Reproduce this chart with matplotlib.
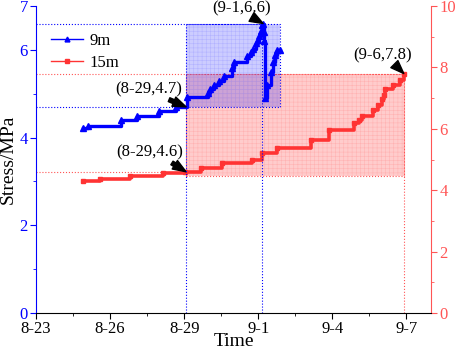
import matplotlib
matplotlib.use("Agg")
import matplotlib.pyplot as plt
from matplotlib.patches import Rectangle
from matplotlib.lines import Line2D

plt.rcParams['font.family'] = ['Liberation Serif', 'DejaVu Serif']
plt.rcParams['hatch.linewidth'] = 0.4

# days since 8-23
tick_days = [0, 3, 6, 9, 12, 15]
tick_labels = ['8-23', '8-26', '8-29', '9-1', '9-4', '9-7']

# 9 m (left axis)
t9 = [1.92, 2.1, 3.45, 4.1, 5.0, 5.65, 6.1, 6.95, 7.05, 7.2, 7.4, 7.6, 7.95,
      8.0, 8.55, 8.7, 8.8, 8.9, 9.0, 9.05, 9.1, 9.15, 9.2, 9.22, 9.24, 9.26,
      9.36, 9.5, 9.6, 9.7, 9.78, 9.88]
s9 = [4.21, 4.27, 4.41, 4.50, 4.60, 4.70, 4.93, 5.02, 5.11, 5.20, 5.30, 5.41,
      5.59, 5.73, 5.85, 5.94, 6.03, 6.15, 6.22, 6.32, 6.43, 6.57, 6.60, 6.40,
      6.20, 4.90, 5.20, 5.50, 5.73, 5.88, 6.00, 6.00]

# 15 m (right axis)
t15 = [1.9, 2.6, 3.8, 5.15, 6.05, 6.7, 7.55, 8.75, 9.15, 9.75, 11.15, 11.85,
       12.9, 13.1, 13.2, 13.65, 13.85, 14.0, 14.1, 14.15, 14.45, 14.75, 14.9]
s15 = [4.30, 4.38, 4.47, 4.56, 4.60, 4.71, 4.90, 5.00, 5.20, 5.38, 5.63, 5.96,
       6.18, 6.29, 6.42, 6.61, 6.78, 6.96, 7.10, 7.29, 7.43, 7.60, 7.80]

# marked points
p9a = (6.08, 4.7)
p9b = (9.17, 6.6)
p15a = (6.08, 4.6)
p15b = (14.9, 7.8)
box9 = (6.08, 9.88, 4.7, 6.6)
box15 = (6.08, 14.9, 4.45, 7.8)

BLUE = '#0000FF'
RED = '#FF3333'
RAX = '#FF5555'

fig = plt.figure(figsize=(4.57, 3.51), dpi=100)
ax = fig.add_axes([0.079, 0.108, 0.864, 0.875])
ax2 = ax.twinx()
ax.set_zorder(ax2.get_zorder() + 1)
ax.patch.set_visible(False)

# shaded boxes
x0, x1, y0, y1 = box15
ax2.add_patch(Rectangle((x0, y0), x1 - x0, y1 - y0, facecolor=(1, 0, 0, 0.2),
                        edgecolor=(1, 0.6, 0.6, 0.5), hatch='++++', lw=0, zorder=1))
ax2.add_patch(Rectangle((x0, y0), x1 - x0, y1 - y0, fill=False,
                        edgecolor=RAX, ls=':', lw=0.8, zorder=1))
x0, x1, y0, y1 = box9
ax.add_patch(Rectangle((x0, y0), x1 - x0, y1 - y0, facecolor=(0, 0, 1, 0.2),
                       edgecolor=(0.6, 0.6, 1, 0.5), hatch='++++', lw=0, zorder=1))
ax.add_patch(Rectangle((x0, y0), x1 - x0, y1 - y0, fill=False,
                       edgecolor=BLUE, ls=':', lw=0.8, zorder=1))

# dotted guide lines
ax.plot([0, p9a[0]], [p9a[1], p9a[1]], ls=':', color=BLUE, lw=0.8)
ax.plot([0, p9b[0]], [p9b[1], p9b[1]], ls=':', color=BLUE, lw=0.8)
ax.plot([p9a[0], p9a[0]], [0, p9a[1]], ls=':', color=BLUE, lw=0.8)
ax.plot([p9b[0], p9b[0]], [0, p9b[1]], ls=':', color=BLUE, lw=0.8)
ax2.plot([0, p15a[0]], [p15a[1], p15a[1]], ls=':', color=RAX, lw=0.8)
ax2.plot([0, p15b[0]], [p15b[1], p15b[1]], ls=':', color=RAX, lw=0.8)
ax2.plot([p15b[0], p15b[0]], [0, p15b[1]], ls=':', color=RAX, lw=0.8)

# data
ax.plot(t9, s9, drawstyle='steps-post', color=BLUE, lw=2.4,
        marker='^', ms=4, zorder=3)
ax2.plot(t15, s15, drawstyle='steps-post', color=RED, lw=2.6,
         marker='s', ms=2.5, zorder=3)

# annotations
def arrow(rx):
    return dict(arrowstyle='simple,head_width=0.6,head_length=0.8,tail_width=0.25',
                color='k', shrinkA=0, shrinkB=0, relpos=(rx, 0.0))

ax.annotate('(8-29,4.7)', xy=p9a, xytext=(4.58, 5.11), fontsize=12,
            ha='center', va='center', arrowprops=arrow(0.7), zorder=5)
ax.annotate('(9-1,6.6)', xy=(9.2, 6.6), xytext=(8.34, 6.95), fontsize=12,
            ha='center', va='center', arrowprops=arrow(0.64),
            annotation_clip=False, zorder=5)
ax2.annotate('(8-29,4.6)', xy=p15a, xytext=(4.62, 5.24), fontsize=12,
             ha='center', va='center', arrowprops=arrow(0.76), zorder=5)
ax2.annotate('(9-6,7.8)', xy=p15b, xytext=(14.05, 8.4), fontsize=12,
             ha='center', va='center', arrowprops=arrow(0.68), zorder=5)

# axes
ax.set_xlim(0, 16)
ax.set_ylim(0, 7)
ax2.set_ylim(0, 10)
ax.set_xticks(tick_days)
ax.set_xticklabels(tick_labels)
ax.set_xticks([1.5, 4.5, 7.5, 10.5, 13.5], minor=True)
ax.set_yticks([0, 2, 4, 6, 7])
ax.set_yticks([1, 3, 5], minor=True)
ax2.set_yticks([0, 2, 4, 6, 8, 10])
ax2.set_yticks([1, 3, 5, 7, 9], minor=True)

for a in (ax, ax2):
    a.spines['top'].set_visible(False)
ax.spines['right'].set_visible(False)
ax.spines['left'].set_color(BLUE)
ax2.spines['left'].set_visible(False)
ax2.spines['right'].set_color(RAX)
ax2.spines['bottom'].set_visible(False)

ax.tick_params(axis='x', which='both', direction='out', labelsize=12, pad=2)
ax.tick_params(axis='x', which='major', length=4)
ax.tick_params(axis='x', which='minor', length=2.5)
ax.tick_params(axis='y', which='both', colors=BLUE, labelsize=12, pad=2)
ax.tick_params(axis='y', which='major', length=4)
ax.tick_params(axis='y', which='minor', length=2.5)
ax2.tick_params(axis='y', which='both', colors=RAX, labelsize=12, pad=2)
ax2.tick_params(axis='y', which='major', length=4)
ax2.tick_params(axis='y', which='minor', length=2.5)

ax.set_xlabel('Time', fontsize=14, labelpad=-3)
ax.set_ylabel('Stress/MPa', fontsize=14, labelpad=2)

handles = [Line2D([], [], color=BLUE, lw=1, marker='^', ms=3.5),
           Line2D([], [], color=RED, lw=1, marker='s', ms=3)]
ax.legend(handles, ['9m', '15m'], loc='upper left', bbox_to_anchor=(0.0, 0.96),
          frameon=False, fontsize=12, handlelength=1.9, handletextpad=0.4,
          labelspacing=0.35, numpoints=1)

fig.savefig('out.png', dpi=100)
